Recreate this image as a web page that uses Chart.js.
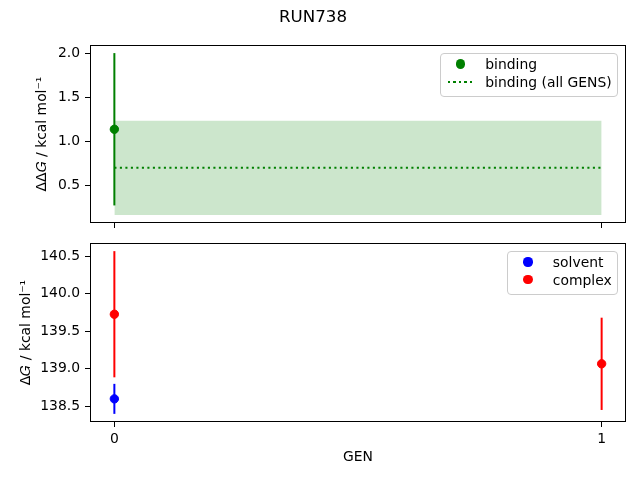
<!DOCTYPE html>
<html>
<head>
<meta charset="utf-8">
<script src="https://cdn.jsdelivr.net/npm/chart.js@4.4.0/dist/chart.umd.min.js"></script>
<style>
body { margin: 0; background: #fff; }
#wrap { position: relative; width: 640px; height: 480px; }
#wrap canvas { position: absolute; left: 0; top: 0; }
.legend { position: absolute; background: rgba(255,255,255,0.8); border: 1px solid #ccc; border-radius: 4px;
  padding: 1.5px 5.6px 5.7px 5.6px; font: 13.9px 'DejaVu Sans'; color: #000; }
.legend .row { display: flex; align-items: center; height: 17.7px; white-space: nowrap; }
.legend .handle { width: 27.8px; margin-right: 11.1px; display: flex; justify-content: center; align-items: center; }
.legend .dot { width: 9.3px; height: 9.3px; border-radius: 50%; }
.legend .dots { width: 25px; height: 2px; }
</style>
</head>
<body>
<div id="wrap">
  <canvas id="topChart" width="640" height="480"></canvas>
  <canvas id="bottomChart" width="640" height="480"></canvas>
</div>
<script>
const gens = [0, 1];
const xTicks = [0, 1];

// binding free energy per GEN, and over all GENS
const bindingGen = [0];
const bindingValue = [1.136];
const bindingErr = [0.868];
const bindingAll = 0.697;
const bindingAllErr = 0.537;
const topTicks = [0.5, 1.0, 1.5, 2.0];

const solventGen = [0];
const solventValue = [138.598];
const solventErr = [0.2];
const complexGen = [0, 1];
const complexValue = [139.726, 139.065];
const complexErr = [0.841, 0.615];
const bottomTicks = [138.5, 139.0, 139.5, 140.0, 140.5];

Chart.defaults.font.family = 'DejaVu Sans';
Chart.defaults.font.size = 13.9;
Chart.defaults.color = '#000';

function padRange(lo, hi) {
  const m = (hi - lo) * 0.05;
  return [lo - m, hi + m];
}

function points(xs, ys, color, label) {
  return {
    label: label, legend: 'dot', order: 0,
    data: xs.map((x, i) => ({x: x, y: ys[i]})),
    showLine: false, pointRadius: 4.2, borderWidth: 1,
    pointBackgroundColor: color, pointBorderColor: color, borderColor: color
  };
}

function errorBars(xs, ys, es, color) {
  return xs.map((x, i) => ({
    order: 1,
    data: [{x: x, y: ys[i] - es[i]}, {x: x, y: ys[i] + es[i]}],
    borderColor: color, borderWidth: 2, pointRadius: 0
  }));
}

const frame = {
  id: 'frame',
  afterDatasetsDraw(chart) {
    const {ctx, chartArea: a} = chart;
    ctx.save();
    ctx.strokeStyle = '#000';
    ctx.lineWidth = 1;
    ctx.strokeRect(Math.round(a.left) + 0.5, Math.round(a.top) + 0.5, Math.round(a.width) - 1, Math.round(a.height) - 1);
    ctx.restore();
  }
};

const boxLegend = {
  id: 'boxLegend',
  afterRender(chart) {
    if (chart.$legendDone) return;
    chart.$legendDone = true;
    const a = chart.chartArea;
    const box = document.createElement('div');
    box.className = 'legend';
    box.style.right = (640 - a.right + 7.7) + 'px';
    box.style.top = (a.top + 7.6) + 'px';
    chart.data.datasets.filter(d => d.legend).forEach(d => {
      const row = document.createElement('div');
      row.className = 'row';
      const h = document.createElement('span');
      h.className = 'handle';
      const m = document.createElement('span');
      if (d.legend === 'line') {
        m.className = 'dots';
        m.style.background = 'repeating-linear-gradient(to right, ' + d.borderColor + ' 0 2.1px, transparent 2.1px 5.5px)';
      } else {
        m.className = 'dot';
        m.style.background = d.pointBackgroundColor;
      }
      h.appendChild(m);
      const t = document.createElement('span');
      t.textContent = d.label;
      row.append(h, t);
      box.appendChild(row);
    });
    document.getElementById('wrap').appendChild(box);
  }
};

function xScale(showLabels, height) {
  return {
    type: 'linear', min: -0.05, max: 1.05,
    afterBuildTicks: s => { s.ticks = xTicks.map(v => ({value: v})); },
    afterFit: s => { s.height = height; },
    ticks: {display: showLabels, padding: 4, callback: v => String(v)},
    grid: {drawOnChartArea: false, tickLength: 5, color: '#000'},
    border: {display: false},
    title: {display: showLabels, text: 'GEN', padding: {top: 0, bottom: 14.7}}
  };
}

function yScale(range, ticks, title, titlePad) {
  return {
    type: 'linear', min: range[0], max: range[1],
    afterBuildTicks: s => { s.ticks = ticks.map(v => ({value: v})); },
    afterFit: s => { s.width = 90; },
    ticks: {padding: 5, callback: v => v.toFixed(1)},
    grid: {drawOnChartArea: false, tickLength: 5, color: '#000'},
    border: {display: false},
    title: {display: true, text: title, padding: {top: titlePad, bottom: 0}}
  };
}

const topRange = padRange(
  Math.min(...bindingValue.map((v, i) => v - bindingErr[i]), bindingAll - bindingAllErr),
  Math.max(...bindingValue.map((v, i) => v + bindingErr[i]), bindingAll + bindingAllErr));

new Chart(document.getElementById('topChart'), {
  type: 'line',
  data: {
    datasets: [
      points(bindingGen, bindingValue, '#008000', 'binding'),
      ...errorBars(bindingGen, bindingValue, bindingErr, '#008000'),
      {
        label: 'binding (all GENS)', legend: 'line', order: 2,
        data: [{x: gens[0], y: bindingAll}, {x: gens[gens.length - 1], y: bindingAll}],
        borderColor: '#008000', borderWidth: 2.1, borderDash: [2.1, 3.4], pointRadius: 0
      },
      {
        order: 3,
        data: [{x: gens[0], y: bindingAll + bindingAllErr}, {x: gens[gens.length - 1], y: bindingAll + bindingAllErr}],
        borderWidth: 0, pointRadius: 0, fill: '+1', backgroundColor: 'rgba(0,128,0,0.2)'
      },
      {
        order: 3,
        data: [{x: gens[0], y: bindingAll - bindingAllErr}, {x: gens[gens.length - 1], y: bindingAll - bindingAllErr}],
        borderWidth: 0, pointRadius: 0
      }
    ]
  },
  options: {
    responsive: false, animation: false, events: [],
    layout: {padding: {left: 0, right: 14, top: 0, bottom: 0}},
    plugins: {
      legend: {display: false},
      tooltip: {enabled: false},
      title: {display: true, text: 'RUN738', font: {size: 16.67, weight: 'normal'}, padding: {top: 7.7, bottom: 17.3}}
    },
    scales: {
      x: xScale(false, 257),
      y: yScale(topRange, topTicks, 'ΔΔ𝐺 / kcal mol⁻¹', 33.7)
    }
  },
  plugins: [frame, boxLegend]
});

const allLo = [...solventValue.map((v, i) => v - solventErr[i]), ...complexValue.map((v, i) => v - complexErr[i])];
const allHi = [...solventValue.map((v, i) => v + solventErr[i]), ...complexValue.map((v, i) => v + complexErr[i])];
const bottomRange = padRange(Math.min(...allLo), Math.max(...allHi));

new Chart(document.getElementById('bottomChart'), {
  type: 'line',
  data: {
    datasets: [
      points(solventGen, solventValue, '#0000ff', 'solvent'),
      points(complexGen, complexValue, '#ff0000', 'complex'),
      ...errorBars(solventGen, solventValue, solventErr, '#0000ff'),
      ...errorBars(complexGen, complexValue, complexErr, '#ff0000')
    ]
  },
  options: {
    responsive: false, animation: false, events: [],
    layout: {padding: {left: 0, right: 14, top: 243, bottom: 0}},
    plugins: {legend: {display: false}, tooltip: {enabled: false}},
    scales: {
      x: xScale(true, 58),
      y: yScale(bottomRange, bottomTicks, 'Δ𝐺 / kcal mol⁻¹', 17.7)
    }
  },
  plugins: [frame, boxLegend]
});
</script>
</body>
</html>
